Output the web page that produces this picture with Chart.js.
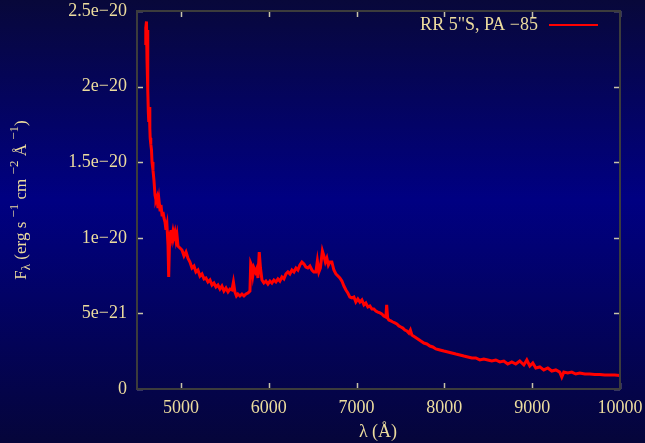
<!DOCTYPE html>
<html>
<head>
<meta charset="utf-8">
<script src="https://cdn.jsdelivr.net/npm/chart.js@4.4.0/dist/chart.umd.min.js"></script>
<style>
  html, body { margin: 0; padding: 0; background: #05053c; }
  canvas { display: block; }
</style>
</head>
<body>
<canvas id="specChart" width="645" height="443"></canvas>
<script>
// RR slit 5" S, PA -85 : extracted spectrum
var seriesLabel = 'RR 5"S, PA \u221285';

var wavelength = [
  4594, 4600, 4608, 4614, 4620, 4625, 4629, 4634, 4640, 4646,
  4650, 4657, 4665, 4671, 4682, 4693, 4705, 4716, 4728, 4739,
  4750, 4762, 4773, 4785, 4796, 4807, 4819, 4830, 4841, 4853,
  4861, 4868, 4876, 4887, 4898, 4910, 4921, 4932, 4944, 4955,
  4967, 4989, 5012, 5035, 5058, 5080, 5103, 5126, 5149, 5171,
  5194, 5217, 5240, 5263, 5285, 5308, 5331, 5354, 5376, 5399,
  5422, 5445, 5467, 5490, 5513, 5536, 5558, 5581, 5598, 5615,
  5632, 5649, 5672, 5695, 5718, 5741, 5763, 5786, 5795, 5809,
  5820, 5832, 5849, 5866, 5877, 5892, 5906, 5923, 5945, 5968,
  5991, 6014, 6036, 6059, 6082, 6105, 6127, 6150, 6173, 6196,
  6219, 6241, 6264, 6287, 6310, 6332, 6355, 6378, 6401, 6423,
  6446, 6469, 6492, 6514, 6537, 6554, 6571, 6588, 6611, 6628,
  6645, 6662, 6679, 6697, 6719, 6742, 6765, 6788, 6810, 6833,
  6856, 6879, 6901, 6924, 6947, 6970, 6992, 7015, 7038, 7061,
  7084, 7106, 7129, 7152, 7175, 7197, 7220, 7243, 7266, 7288,
  7311, 7334, 7343, 7354, 7368, 7391, 7413, 7436, 7459, 7482,
  7505, 7527, 7550, 7573, 7596, 7613, 7630, 7664, 7698, 7732,
  7766, 7801, 7835, 7869, 7903, 7949, 7994, 8040, 8085, 8131,
  8176, 8222, 8267, 8313, 8358, 8404, 8449, 8495, 8540, 8586,
  8631, 8677, 8722, 8768, 8813, 8859, 8905, 8939, 8973, 9007,
  9041, 9087, 9132, 9178, 9223, 9269, 9314, 9337, 9360, 9405,
  9451, 9496, 9542, 9599, 9656, 9713, 9770, 9826, 9883, 9940,
  9997
];

var flux = [
  2.275e-20, 2.388e-20, 2.431e-20, 2.176e-20, 2.374e-20, 1.978e-20, 1.832e-20, 1.766e-20, 1.865e-20, 1.726e-20,
  1.660e-20, 1.620e-20, 1.581e-20, 1.501e-20, 1.448e-20, 1.382e-20, 1.283e-20, 1.250e-20, 1.270e-20, 1.197e-20,
  1.250e-20, 1.184e-20, 1.217e-20, 1.151e-20, 1.171e-20, 1.131e-20, 1.104e-20, 1.052e-20, 1.085e-20, 0.952e-20,
  0.741e-20, 0.919e-20, 1.032e-20, 1.052e-20, 1.005e-20, 1.045e-20, 1.012e-20, 1.038e-20, 0.985e-20, 1.019e-20,
  0.946e-20, 0.933e-20, 0.919e-20, 0.880e-20, 0.906e-20, 0.866e-20, 0.840e-20, 0.800e-20, 0.813e-20, 0.774e-20,
  0.787e-20, 0.747e-20, 0.761e-20, 0.728e-20, 0.734e-20, 0.708e-20, 0.721e-20, 0.688e-20, 0.701e-20, 0.675e-20,
  0.688e-20, 0.661e-20, 0.681e-20, 0.648e-20, 0.668e-20, 0.642e-20, 0.661e-20, 0.655e-20, 0.708e-20, 0.642e-20,
  0.615e-20, 0.628e-20, 0.615e-20, 0.628e-20, 0.615e-20, 0.628e-20, 0.635e-20, 0.648e-20, 0.833e-20, 0.813e-20,
  0.754e-20, 0.800e-20, 0.774e-20, 0.800e-20, 0.734e-20, 0.906e-20, 0.800e-20, 0.721e-20, 0.701e-20, 0.714e-20,
  0.694e-20, 0.714e-20, 0.701e-20, 0.721e-20, 0.708e-20, 0.728e-20, 0.714e-20, 0.741e-20, 0.728e-20, 0.761e-20,
  0.774e-20, 0.761e-20, 0.787e-20, 0.774e-20, 0.800e-20, 0.787e-20, 0.820e-20, 0.840e-20, 0.827e-20, 0.807e-20,
  0.800e-20, 0.813e-20, 0.787e-20, 0.774e-20, 0.774e-20, 0.847e-20, 0.774e-20, 0.800e-20, 0.913e-20, 0.880e-20,
  0.840e-20, 0.866e-20, 0.820e-20, 0.840e-20, 0.840e-20, 0.787e-20, 0.761e-20, 0.747e-20, 0.734e-20, 0.714e-20,
  0.681e-20, 0.655e-20, 0.635e-20, 0.608e-20, 0.602e-20, 0.608e-20, 0.575e-20, 0.595e-20, 0.575e-20, 0.589e-20,
  0.556e-20, 0.569e-20, 0.542e-20, 0.549e-20, 0.529e-20, 0.529e-20, 0.516e-20, 0.509e-20, 0.503e-20, 0.496e-20,
  0.483e-20, 0.476e-20, 0.556e-20, 0.470e-20, 0.456e-20, 0.450e-20, 0.443e-20, 0.437e-20, 0.430e-20, 0.417e-20,
  0.410e-20, 0.403e-20, 0.390e-20, 0.384e-20, 0.370e-20, 0.390e-20, 0.357e-20, 0.344e-20, 0.331e-20, 0.317e-20,
  0.304e-20, 0.298e-20, 0.284e-20, 0.278e-20, 0.265e-20, 0.258e-20, 0.251e-20, 0.245e-20, 0.238e-20, 0.231e-20,
  0.225e-20, 0.218e-20, 0.212e-20, 0.205e-20, 0.205e-20, 0.192e-20, 0.198e-20, 0.192e-20, 0.185e-20, 0.192e-20,
  0.179e-20, 0.185e-20, 0.165e-20, 0.179e-20, 0.165e-20, 0.185e-20, 0.159e-20, 0.192e-20, 0.152e-20, 0.172e-20,
  0.139e-20, 0.146e-20, 0.126e-20, 0.139e-20, 0.119e-20, 0.126e-20, 0.112e-20, 0.079e-20, 0.112e-20, 0.106e-20,
  0.112e-20, 0.099e-20, 0.106e-20, 0.099e-20, 0.099e-20, 0.096e-20, 0.096e-20, 0.093e-20, 0.093e-20, 0.093e-20,
  0.089e-20
];

var xTicks = [5000, 6000, 7000, 8000, 9000, 10000];
var xTickLabels = ['5000', '6000', '7000', '8000', '9000', '10000'];
var yTicks = [0, 5e-21, 1e-20, 1.5e-20, 2e-20, 2.5e-20];
var yTickLabels = ['0', '5e\u221221', '1e\u221220', '1.5e\u221220', '2e\u221220', '2.5e\u221220'];

var points = wavelength.map(function (w, i) { return { x: w, y: flux[i] }; });

var textColor = '#ecdc9e';
var serif = '"Liberation Serif", "DejaVu Serif", serif';
var mainFont = '18px ' + serif;
var smallFont = '13px ' + serif;

// background, frame, inward ticks, labels, axis titles and key
var decor = {
  id: 'decor',
  beforeDraw: function (chart) {
    var ctx = chart.ctx;
    var g = ctx.createLinearGradient(0, 0, 0, chart.height);
    g.addColorStop(0, '#08083a');
    g.addColorStop(0.45, '#000082');
    g.addColorStop(1, '#05053a');
    ctx.save();
    ctx.fillStyle = g;
    ctx.fillRect(0, 0, chart.width, chart.height);
    ctx.restore();
  },
  afterDraw: function (chart) {
    var ctx = chart.ctx;
    var a = chart.chartArea;
    var xs = chart.scales.x, ys = chart.scales.y;
    ctx.save();

    // tick marks on all four sides
    ctx.strokeStyle = '#c8c4a8';
    ctx.lineWidth = 1.5;
    ctx.beginPath();
    xTicks.forEach(function (v) {
      var px = Math.round(xs.getPixelForValue(v)) + 0.5;
      ctx.moveTo(px, a.bottom); ctx.lineTo(px, a.bottom - 6);
      ctx.moveTo(px, a.top); ctx.lineTo(px, a.top + 6);
    });
    yTicks.forEach(function (v) {
      var py = Math.round(ys.getPixelForValue(v)) + 0.5;
      ctx.moveTo(a.left, py); ctx.lineTo(a.left + 6, py);
      ctx.moveTo(a.right, py); ctx.lineTo(a.right - 6, py);
    });
    ctx.stroke();

    // frame
    ctx.strokeStyle = '#3c3c3c';
    ctx.lineWidth = 2;
    ctx.strokeRect(a.left, a.top, a.right - a.left, a.bottom - a.top);

    // tick labels
    ctx.fillStyle = textColor;
    ctx.font = mainFont;
    ctx.textAlign = 'center';
    ctx.textBaseline = 'alphabetic';
    xTicks.forEach(function (v, i) {
      ctx.fillText(xTickLabels[i], xs.getPixelForValue(v), a.bottom + 24);
    });
    ctx.textAlign = 'right';
    ctx.textBaseline = 'middle';
    yTicks.forEach(function (v, i) {
      ctx.fillText(yTickLabels[i], a.left - 10, ys.getPixelForValue(v));
    });

    // x title
    ctx.textAlign = 'center';
    ctx.textBaseline = 'alphabetic';
    ctx.fillText('\u03bb (\u00c5)', 378, 437);

    // y title with sub/superscripts
    var parts = [
      { t: 'F', k: 0 }, { t: '\u03bb', k: 1 }, { t: ' (erg s ', k: 0 }, { t: '\u22121', k: 2 },
      { t: ' cm ', k: 0 }, { t: '\u22122', k: 2 }, { t: ' \u00c5 ', k: 0 }, { t: '\u22121', k: 2 },
      { t: ')', k: 0 }
    ];
    var fonts = ['17px ' + serif, smallFont, smallFont];
    var shift = [0, 4, -8];
    var total = 0;
    parts.forEach(function (p) { ctx.font = fonts[p.k]; p.w = ctx.measureText(p.t).width; total += p.w; });
    ctx.translate(26, 200);
    ctx.rotate(-Math.PI / 2);
    ctx.textAlign = 'left';
    var cx = -total / 2;
    parts.forEach(function (p) {
      ctx.font = fonts[p.k];
      ctx.fillText(p.t, cx, shift[p.k]);
      cx += p.w;
    });
    ctx.setTransform(1, 0, 0, 1, 0, 0);

    // key
    ctx.font = mainFont;
    ctx.textAlign = 'right';
    ctx.textBaseline = 'alphabetic';
    ctx.fillStyle = textColor;
    ctx.fillText(chart.data.datasets[0].label, 538, 30);
    ctx.strokeStyle = '#ff0000';
    ctx.lineWidth = 2;
    ctx.beginPath();
    ctx.moveTo(549, 25);
    ctx.lineTo(598, 25);
    ctx.stroke();

    ctx.restore();
  }
};

var specChart = new Chart(document.getElementById('specChart'), {
  type: 'line',
  data: {
    datasets: [{
      label: seriesLabel,
      data: points,
      borderColor: '#ff0000',
      borderWidth: 3,
      pointRadius: 0,
      tension: 0,
      fill: false
    }]
  },
  options: {
    responsive: false,
    animation: false,
    layout: { padding: { left: 0, top: 11, right: 25, bottom: 0 } },
    plugins: {
      legend: { display: false },
      tooltip: { enabled: false }
    },
    scales: {
      x: {
        type: 'linear',
        min: 4500,
        max: 10000,
        afterBuildTicks: function (s) { s.ticks = xTicks.map(function (v) { return { value: v }; }); },
        afterFit: function (s) { s.height = 54; },
        grid: { display: false },
        border: { display: false },
        ticks: { display: false }
      },
      y: {
        type: 'linear',
        min: 0,
        max: 2.5e-20,
        afterBuildTicks: function (s) { s.ticks = yTicks.map(function (v) { return { value: v }; }); },
        afterFit: function (s) { s.width = 137; },
        grid: { display: false },
        border: { display: false },
        ticks: { display: false }
      }
    }
  },
  plugins: [decor]
});
</script>
</body>
</html>
